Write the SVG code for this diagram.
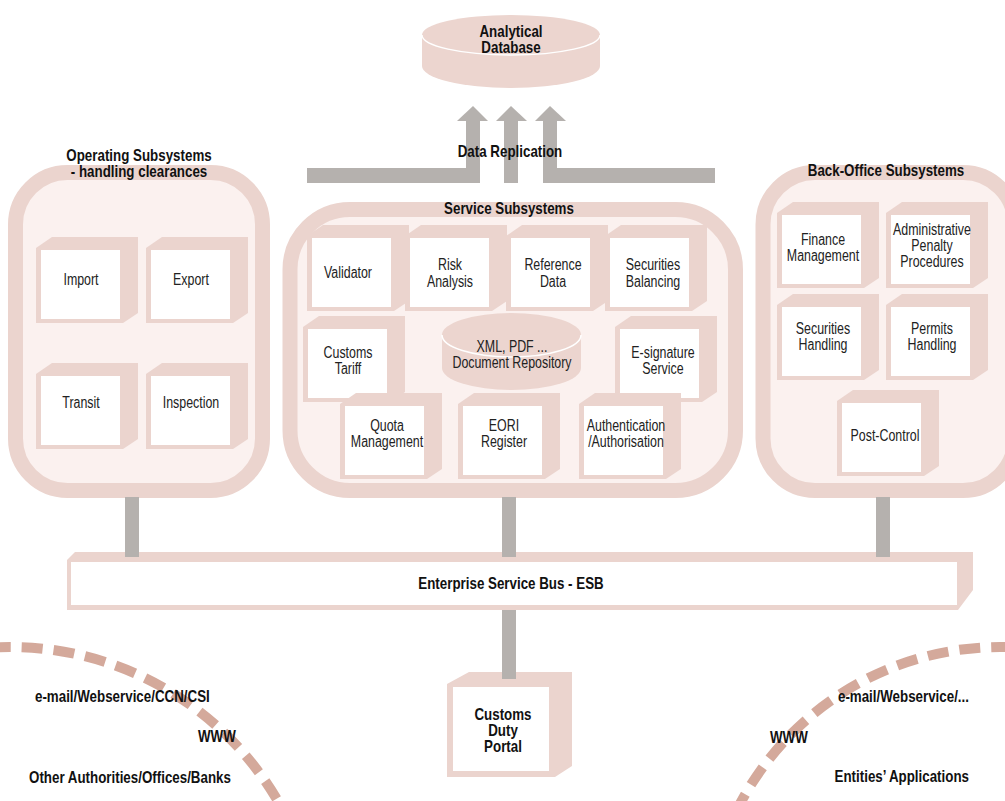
<svg xmlns="http://www.w3.org/2000/svg" xmlns:xlink="http://www.w3.org/1999/xlink" width="1005" height="801" viewBox="0 0 1005 801">
<style>
.ring{fill:#fbf1ef;stroke:#ebd4ce;stroke-width:15}
.cb{fill:#ebd4ce}
.wh{fill:#ffffff}
.gr{fill:#b5b1ae}
.t{font-family:"Liberation Sans",Arial,sans-serif;font-size:16px;fill:#222;text-anchor:middle}
.b{font-family:"Liberation Sans",Arial,sans-serif;font-size:16px;font-weight:bold;fill:#111;text-anchor:middle}
.s{text-anchor:start}
.e{text-anchor:end}
.dash{fill:none;stroke:#d4a99b;stroke-width:10;stroke-dasharray:21 11}
</style>
<defs>
<g id="cube"><polygon class="cb" points="0,11 16,0 102,0 102,76 87,86 0,86"/><rect class="wh" x="5" y="13" width="79" height="69"/></g>
</defs>
<rect width="1005" height="801" fill="#ffffff"/>

<g id="networks">
<circle class="dash" cx="10" cy="957" r="310"/>
<circle class="dash" cx="1000" cy="941" r="294"/>
</g>

<g id="operating-subsystems">
<rect class="ring" x="15.5" y="172.5" width="247" height="318" rx="52"/>
<text class="b" transform="translate(139 161) scale(.835 1)">Operating Subsystems</text>
<text class="b" transform="translate(139 177) scale(.835 1)">- handling clearances</text>
</g>
<g id="service-subsystems">
<rect class="ring" x="290" y="209.5" width="445.5" height="281" rx="60"/>
<text class="b" transform="translate(509 214) scale(.835 1)">Service Subsystems</text>
</g>
<g id="back-office-subsystems">
<rect class="ring" x="763" y="172.5" width="252" height="318" rx="52"/>
<text class="b" transform="translate(886 176) scale(.835 1)">Back-Office Subsystems</text>
</g>

<g id="connectors">
<rect class="gr" x="307" y="168" width="173" height="15"/>
<rect class="gr" x="543" y="168" width="172" height="15"/>
<rect class="gr" x="504" y="120" width="14" height="63"/>
<polygon class="gr" points="457,121 473,106 488,121"/>
<polygon class="gr" points="496,121 511,106 527,121"/>
<polygon class="gr" points="535,121 550,106 566,121"/>
<rect class="gr" x="466" y="120" width="14" height="63"/>
<rect class="gr" x="543" y="120" width="14" height="63"/>
<rect class="gr" x="125" y="497" width="14" height="60"/>
<rect class="gr" x="502" y="497" width="14" height="60"/>
<rect class="gr" x="876" y="497" width="14" height="60"/>
<rect class="gr" x="502" y="610" width="14" height="69"/>
<text class="b" transform="translate(510 157) scale(.835 1)">Data Replication</text>
</g>

<g id="analytical-database">
<path d="M422,35 A89,20 0 0 1 600,35 L600,66 A89,22 0 0 1 422,66 Z" fill="#ecd5cf"/>
<path d="M422,35 A89,20 0 0 0 600,35" fill="none" stroke="#ffffff" stroke-width="1.5"/>
<text class="b" transform="translate(511 37) scale(.835 1)">Analytical</text>
<text class="b" transform="translate(511 53) scale(.835 1)">Database</text>
</g>

<g id="import"><use href="#cube" x="36" y="237"/><text class="t" transform="translate(81 285) scale(.775 1)">Import</text></g>
<g id="export"><use href="#cube" x="146" y="237"/><text class="t" transform="translate(191 285) scale(.775 1)">Export</text></g>
<g id="transit"><use href="#cube" x="36" y="363"/><text class="t" transform="translate(81 408) scale(.775 1)">Transit</text></g>
<g id="inspection"><use href="#cube" x="146" y="363"/><text class="t" transform="translate(191 408) scale(.775 1)">Inspection</text></g>

<g id="validator"><use href="#cube" x="307" y="225"/><text class="t" transform="translate(348 278) scale(.775 1)">Validator</text></g>
<g id="risk-analysis"><use href="#cube" x="405" y="225"/><text class="t" transform="translate(450 270) scale(.775 1)">Risk</text><text class="t" transform="translate(450 287) scale(.775 1)">Analysis</text></g>
<g id="reference-data"><use href="#cube" x="506" y="225"/><text class="t" transform="translate(553 270) scale(.775 1)">Reference</text><text class="t" transform="translate(553 287) scale(.775 1)">Data</text></g>
<g id="securities-balancing"><use href="#cube" x="605" y="225"/><text class="t" transform="translate(653 270) scale(.775 1)">Securities</text><text class="t" transform="translate(653 287) scale(.775 1)">Balancing</text></g>
<g id="customs-tariff"><use href="#cube" x="303" y="316"/><text class="t" transform="translate(348 358) scale(.775 1)">Customs</text><text class="t" transform="translate(348 374) scale(.775 1)">Tariff</text></g>
<g id="e-signature"><use href="#cube" x="615" y="316"/><text class="t" transform="translate(663 358) scale(.775 1)">E-signature</text><text class="t" transform="translate(663 374) scale(.775 1)">Service</text></g>
<g id="document-repository">
<path d="M442,335 A69.5,22 0 0 1 581,335 L581,368 A69.5,22 0 0 1 442,368 Z" fill="#ecd5cf"/>
<path d="M442,335 A69.5,22 0 0 0 581,335" fill="none" stroke="#ffffff" stroke-width="1.5"/>
<text class="t" transform="translate(512 352) scale(.775 1)">XML, PDF ...</text>
<text class="t" transform="translate(512 368) scale(.775 1)">Document Repository</text>
</g>
<g id="quota-management"><use href="#cube" x="340" y="393"/><text class="t" transform="translate(387 431) scale(.775 1)">Quota</text><text class="t" transform="translate(387 447) scale(.775 1)">Management</text></g>
<g id="eori-register"><use href="#cube" x="458" y="393"/><text class="t" transform="translate(504 431) scale(.775 1)">EORI</text><text class="t" transform="translate(504 447) scale(.775 1)">Register</text></g>
<g id="authentication"><use href="#cube" x="579" y="393"/><text class="t" transform="translate(626 431) scale(.775 1)">Authentication</text><text class="t" transform="translate(626 447) scale(.775 1)">/Authorisation</text></g>

<g id="finance-management"><use href="#cube" x="777" y="202"/><text class="t" transform="translate(823 245) scale(.775 1)">Finance</text><text class="t" transform="translate(823 261) scale(.775 1)">Management</text></g>
<g id="administrative-penalty"><use href="#cube" x="886" y="202"/><text class="t" transform="translate(932 235) scale(.775 1)">Administrative</text><text class="t" transform="translate(932 251) scale(.775 1)">Penalty</text><text class="t" transform="translate(932 267) scale(.775 1)">Procedures</text></g>
<g id="securities-handling"><use href="#cube" x="777" y="294"/><text class="t" transform="translate(823 334) scale(.775 1)">Securities</text><text class="t" transform="translate(823 350) scale(.775 1)">Handling</text></g>
<g id="permits-handling"><use href="#cube" x="886" y="294"/><text class="t" transform="translate(932 334) scale(.775 1)">Permits</text><text class="t" transform="translate(932 350) scale(.775 1)">Handling</text></g>
<g id="post-control"><use href="#cube" x="837" y="390"/><text class="t" transform="translate(885 441) scale(.775 1)">Post-Control</text></g>

<g id="esb">
<polygon class="cb" points="67,560 75,552 973,552 973,590 958,610 67,610"/>
<rect class="wh" x="71" y="562" width="886" height="43"/>
<rect class="gr" x="125" y="552" width="14" height="5"/>
<rect class="gr" x="502" y="552" width="14" height="5"/>
<rect class="gr" x="876" y="552" width="14" height="5"/>
<text class="b" transform="translate(511 589) scale(.835 1)">Enterprise Service Bus - ESB</text>
</g>

<g id="customs-duty-portal">
<polygon class="cb" points="447,684 469,672 572,672 572,766 555,777 447,777"/>
<rect class="wh" x="453" y="687" width="96" height="84"/>
<rect class="gr" x="502" y="672" width="14" height="7"/>
<text class="b" transform="translate(503 720) scale(.835 1)">Customs</text>
<text class="b" transform="translate(503 736) scale(.835 1)">Duty</text>
<text class="b" transform="translate(503 752) scale(.835 1)">Portal</text>
</g>

<g id="labels">
<text class="b s" transform="translate(35 702) scale(.835 1)">e-mail/Webservice/CCN/CSI</text>
<text class="b s" transform="translate(198 742) scale(.835 1)">WWW</text>
<text class="b s" transform="translate(29 783) scale(.835 1)">Other Authorities/Offices/Banks</text>
<text class="b e" transform="translate(969 702) scale(.835 1)">e-mail/Webservice/...</text>
<text class="b s" transform="translate(770 743) scale(.835 1)">WWW</text>
<text class="b e" transform="translate(969 782) scale(.835 1)">Entities’ Applications</text>
</g>
</svg>
